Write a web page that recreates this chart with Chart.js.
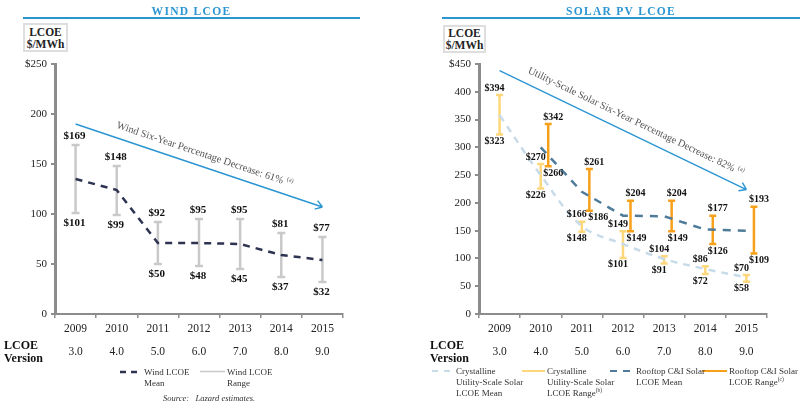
<!DOCTYPE html>
<html><head><meta charset="utf-8">
<script src="https://cdn.jsdelivr.net/npm/chart.js@4.4.1/dist/chart.umd.min.js"></script>
<style>
html,body{margin:0;padding:0;background:#fff;}
body{width:800px;height:406px;position:relative;overflow:hidden;font-family:"Liberation Serif",serif;color:#222;}
canvas{position:absolute;top:0;}
.title{position:absolute;top:4px;font-weight:bold;font-size:11.5px;line-height:14px;letter-spacing:1.3px;color:#2b95d2;text-align:center;}
.rule{position:absolute;top:17px;height:1.5px;background:#2b95d2;}
.unit{position:absolute;border:2px solid #dedede;font-weight:bold;font-size:11.5px;text-align:center;line-height:12px;box-sizing:border-box;background:#fff;}
.ver{position:absolute;font-weight:bold;font-size:12px;line-height:13px;color:#111;}
.leg{position:absolute;font-size:9px;line-height:11px;color:#333;white-space:nowrap;}
.leg sup{font-size:5.5px;vertical-align:4px;line-height:0;}
.src{position:absolute;font-style:italic;font-size:8.5px;color:#333;white-space:nowrap;}
svg{position:absolute;left:0;top:0;}
</style></head><body>
<canvas id="wind" width="400" height="406" style="left:0"></canvas>
<canvas id="solar" width="400" height="406" style="left:400px"></canvas>

<div class="title" style="left:23px;width:337px;">WIND LCOE</div>
<div class="rule" style="left:23px;width:337px;"></div>
<div class="title" style="left:442px;width:358px;">SOLAR PV LCOE</div>
<div class="rule" style="left:442px;width:358px;"></div>

<div class="unit" style="left:23px;top:23px;width:45px;height:29px;padding-top:1px;">LCOE<br>$/MWh</div>
<div class="unit" style="left:443px;top:25px;width:43px;height:28px;padding-top:0px;">LCOE<br>$/MWh</div>

<div class="ver" style="left:4px;top:338.5px;">LCOE<br>Version</div>
<div class="ver" style="left:430px;top:338.5px;">LCOE<br>Version</div>

<svg width="800" height="406">
  <line x1="120" y1="372" x2="138" y2="372" stroke="#2d3350" stroke-width="2.5" stroke-dasharray="6,5"/>
  <line x1="200" y1="371.5" x2="225" y2="371.5" stroke="#c8c8c8" stroke-width="1.5"/>
  <line x1="432" y1="371" x2="451" y2="371" stroke="#c8dbe9" stroke-width="2" stroke-dasharray="6,6"/>
  <line x1="522" y1="371" x2="545" y2="371" stroke="#fdd77a" stroke-width="2"/>
  <line x1="610" y1="371" x2="634" y2="371" stroke="#4f7b9a" stroke-width="2" stroke-dasharray="7,6"/>
  <line x1="702" y1="371" x2="727" y2="371" stroke="#f7a11a" stroke-width="2"/>
</svg>
<div class="leg" style="left:144px;top:366.5px;">Wind LCOE<br>Mean</div>
<div class="leg" style="left:227px;top:366.5px;">Wind LCOE<br>Range</div>
<div class="leg" style="left:456px;top:365.5px;">Crystalline<br>Utility-Scale Solar<br>LCOE Mean</div>
<div class="leg" style="left:547px;top:365.5px;">Crystalline<br>Utility-Scale Solar<br>LCOE Range<sup>(b)</sup></div>
<div class="leg" style="left:636px;top:365.5px;">Rooftop C&amp;I Solar<br>LCOE Mean</div>
<div class="leg" style="left:729px;top:365.5px;">Rooftop C&amp;I Solar<br>LCOE Range<sup>(c)</sup></div>
<div class="src" style="left:163px;top:393px;">Source:&nbsp;&nbsp; Lazard estimates.</div>

<script>
// ---------- data ----------
const years = ['2009','2010','2011','2012','2013','2014','2015'];
const versions = ['3.0','4.0','5.0','6.0','7.0','8.0','9.0'];
const windTicks = [0,50,100,150,200,250];
const solarTicks = [0,50,100,150,200,250,300,350,400,450];

const windMean = [135,124,71,71,70,59,54];
const windHigh = [169,148,92,95,95,81,77];
const windLow  = [101,99,50,48,45,37,32];
const windTrend = [190,107];   // arrow value at 2009 and at 2015

const utilMean = [358,250,158,126,99,81,66];
const utilHigh = [394,270,166,149,104,86,70];
const utilLow  = [323,226,148,101,91,72,58];
const roofMean = [null,300,220,177,176,152,150];
const roofHigh = [null,342,261,204,204,177,193];
const roofLow  = [null,266,186,149,149,126,109];
const solarTrend = [438,224];

const windTrendText = 'Wind Six-Year Percentage Decrease: 61%';
const solarTrendText = 'Utility-Scale Solar Six-Year Percentage Decrease: 82%';

// ---------- styles / helpers ----------
const F = '"Liberation Serif", serif';
const AX = '#8c8c8c';
const roofLowLabelShift = [0,0,4,1,1,0,0];   // extra horizontal nudge of some lower labels (style)

function rangesPlugin(sets){
  return {
    id:'ranges',
    beforeDatasetsDraw(chart){
      const {ctx, scales:{x,y}} = chart;
      ctx.save();
      sets.forEach(s=>{
        s.high.forEach((h,i)=>{
          if(h==null) return;
          const px = x.getPixelForValue(i)+s.dx;
          const yt = y.getPixelForValue(h), yb = y.getPixelForValue(s.low[i]);
          ctx.strokeStyle = s.color; ctx.lineWidth = s.width; ctx.lineCap='butt';
          ctx.beginPath();
          ctx.moveTo(px,yt); ctx.lineTo(px,yb);
          ctx.moveTo(px-s.cap,yt); ctx.lineTo(px+s.cap,yt);
          ctx.moveTo(px-s.cap,yb); ctx.lineTo(px+s.cap,yb);
          ctx.stroke();
        });
      });
      ctx.restore();
    },
    afterDatasetsDraw(chart){
      const {ctx, scales:{x,y}} = chart;
      ctx.save();
      sets.forEach(s=>{
        ctx.font = s.font; ctx.fillStyle='#111'; ctx.textAlign='center'; ctx.textBaseline='middle';
        s.high.forEach((h,i)=>{
          if(h==null) return;
          const px = x.getPixelForValue(i)+s.dx+s.lx;
          const yt = y.getPixelForValue(h), yb = y.getPixelForValue(s.low[i]);
          const sh = s.lowShift ? s.lowShift[i] : 0;
          ctx.fillText('$'+h, px, yt - s.up);
          ctx.fillText('$'+s.low[i], px+sh, yb + s.down);
        });
      });
      ctx.restore();
    }
  };
}

function trendPlugin(vals, text, targetLen, perp, along){
  return {
    id:'trend',
    afterDatasetsDraw(chart){
      const {ctx, scales:{x,y}} = chart;
      const x0 = x.getPixelForValue(0), y0 = y.getPixelForValue(vals[0]);
      const x1 = x.getPixelForValue(years.length-1), y1 = y.getPixelForValue(vals[1]);
      const ang = Math.atan2(y1-y0, x1-x0);
      ctx.save();
      ctx.strokeStyle='#2b95d2'; ctx.lineWidth=1.4;
      ctx.beginPath(); ctx.moveTo(x0,y0); ctx.lineTo(x1,y1);
      const hl=8, ha=0.6;
      ctx.moveTo(x1,y1); ctx.lineTo(x1-hl*Math.cos(ang-ha), y1-hl*Math.sin(ang-ha));
      ctx.moveTo(x1,y1); ctx.lineTo(x1-hl*Math.cos(ang+ha), y1-hl*Math.sin(ang+ha));
      ctx.stroke();
      let fs = 12;
      ctx.font = fs+'px '+F;
      const w0 = ctx.measureText(text).width;
      ctx.font = (fs*0.6)+'px '+F;
      const ws0 = ctx.measureText('(a)').width;
      fs = fs*targetLen/(w0+ws0+3);
      const mx = (x0+x1)/2, my = (y0+y1)/2;
      ctx.translate(mx, my); ctx.rotate(ang);
      ctx.translate(along, -perp);
      ctx.font = fs+'px '+F;
      const w = ctx.measureText(text).width;
      ctx.font = (fs*0.6)+'px '+F;
      const ws = ctx.measureText('(a)').width;
      const total = w+ws+3;
      ctx.fillStyle='#555'; ctx.textBaseline='middle'; ctx.textAlign='left';
      ctx.font = fs+'px '+F;
      ctx.fillText(text, -total/2, 0);
      ctx.font = (fs*0.6)+'px '+F;
      ctx.fillText('(a)', -total/2+w+3, -fs*0.3);
      ctx.restore();
    }
  };
}

function xScale(){
  return {
    type:'category', offset:true,
    grid:{offset:true, drawOnChartArea:false, drawTicks:true, tickLength:4, color:AX, lineWidth:1.5},
    border:{color:AX, width:2},
    ticks:{font:{family:F, size:11.5, lineHeight:2.0}, color:'#222', padding:-1, maxRotation:0, autoSkip:false},
    afterFit(s){ s.height = 48; }
  };
}
function yScale(max, ticks, width){
  return {
    min:0, max:max,
    afterBuildTicks(s){ s.ticks = ticks.map(v=>({value:v})); },
    grid:{drawOnChartArea:false, drawTicks:true, tickLength:4, color:AX, lineWidth:2},
    border:{color:AX, width:3},
    ticks:{font:{family:F, size:11}, color:'#222', padding:4, callback:(v)=> v===max ? '$'+v : String(v)},
    afterFit(s){ s.width = width; }
  };
}
const labels = years.map((yr,i)=>[yr, versions[i]]);
const base = {responsive:false, animation:false, events:[], devicePixelRatio:1,
  plugins:{legend:{display:false}, tooltip:{enabled:false}}};

new Chart(document.getElementById('wind'), {
  type:'line',
  data:{labels, datasets:[
    {data:windMean, borderColor:'#2d3350', borderWidth:2.5, borderDash:[7,6], pointRadius:0, fill:false, tension:0}
  ]},
  options:Object.assign({}, base, {
    layout:{padding:{left:0, right:57, top:64, bottom:44}},
    scales:{x:xScale(), y:yScale(250, windTicks, 55)}
  }),
  plugins:[
    rangesPlugin([{high:windHigh, low:windLow, color:'#c9c9c9', width:2.5, cap:4, dx:0, lx:-1, up:9, down:10, font:'bold 11px '+F}]),
    trendPlugin(windTrend, windTrendText, 185, 12, 2)
  ]
});

new Chart(document.getElementById('solar'), {
  type:'line',
  data:{labels, datasets:[
    {data:utilMean, borderColor:'#c8dbe9', borderWidth:2.5, borderDash:[7,6], pointRadius:0, fill:false, tension:0.35},
    {data:roofMean, borderColor:'#4f7b9a', borderWidth:2.5, borderDash:[8,7], pointRadius:0, fill:false, tension:0, spanGaps:false}
  ]},
  options:Object.assign({}, base, {
    layout:{padding:{left:0, right:33, top:64, bottom:44}},
    scales:{x:xScale(), y:yScale(450, solarTicks, 79)}
  }),
  plugins:[
    rangesPlugin([
      {high:utilHigh, low:utilLow, color:'#fdd77a', width:2.5, cap:3.5, dx:0, lx:-5, up:7, down:7, font:'bold 10px '+F},
      {high:roofHigh, low:roofLow, color:'#f7a11a', width:2.5, cap:3.5, dx:7.5, lx:5, up:7, down:7, font:'bold 10px '+F, lowShift:roofLowLabelShift}
    ]),
    trendPlugin(solarTrend, solarTrendText, 238, 13, 8)
  ]
});
</script>
</body></html>
